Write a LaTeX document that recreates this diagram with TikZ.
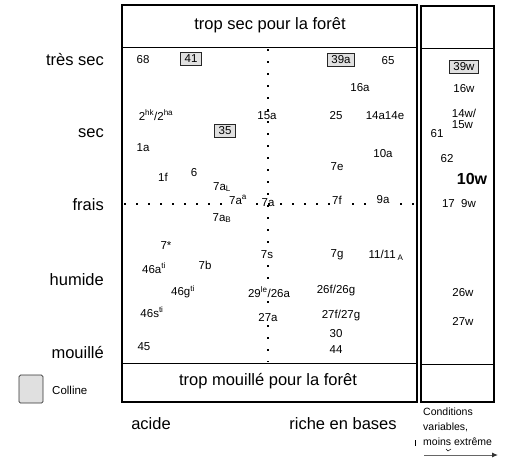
\documentclass[tikz,border=0pt]{standalone}
\usepackage{fontspec}
\setmainfont{Liberation Sans}
\usetikzlibrary{arrows.meta}
\begin{document}
\begin{tikzpicture}[x=1pt,y=-1pt,
  bare/.style={inner sep=0pt, font=\fontsize{11.5}{13}\selectfont},
  lbl/.style={bare, fill=white, inner sep=0.8pt},
  big/.style={inner sep=0pt, font=\fontsize{16.5}{19}\selectfont},
  hill/.style={bare, draw=black!85, fill=black!12, line width=0.8pt, inner xsep=4pt, inner ysep=2.5pt},
  frame/.style={draw, line width=2.2pt},
  sep/.style={draw, line width=0.8pt},
  dotline/.style={line width=2.2pt, dash pattern=on 2.2pt off 9.8pt},
  small/.style={inner sep=0pt, font=\fontsize{10.5}{15}\selectfont, align=left}
]
\useasboundingbox (0,0) rectangle (506,459);
% frames
\draw[frame] (122,5) rectangle (417,402);
\draw[sep] (122,47) -- (417,47);
\draw[sep] (122,363) -- (417,363);
\draw[frame] (421,6) rectangle (494,402);
\draw[sep] (421,48) -- (494,48);
\draw[sep] (421,364) -- (494,364);
% dotted axes
\draw[dotline] (268,49) -- (268,362);
\draw[dotline] (124,204) -- (416,204);
% headers
\node[big] (hdrtop) at (270,25) {trop sec pour la forêt};
\node[big] (hdrbot) at (268,381) {trop mouillé pour la forêt};
% moisture labels
\node[big, anchor=east] (tressec) at (104,60) {très sec};
\node[big, anchor=east] (sec) at (104,133) {sec};
\node[big, anchor=east] (frais) at (104,205) {frais};
\node[big, anchor=east] (humide) at (104,280) {humide};
\node[big, anchor=east] (mouille) at (104,352) {mouillé};
% bottom labels
\node[big] (acide) at (151,424) {acide};
\node[big] (riche) at (343,424) {riche en bases};
% main labels
\node[lbl] (n68) at (143,60) {68};
\node[hill] (n41) at (191,59) {41};
\node[hill] (n39a) at (341,60) {39a};
\node[lbl] (n65) at (388,61) {65};
\node[lbl] (n16a) at (360,88) {16a};
\node[lbl] (n2) at (156,115) {2\textsuperscript{hk}/2\textsuperscript{ha}};
\node[lbl] (n15a) at (267,116) {15a};
\node[lbl] (n25) at (336,116) {25};
\node[lbl] (n14a) at (385,116) {14a14e};
\node[hill] (n35) at (225,131) {35};
\node[lbl] (n1a) at (143,148) {1a};
\node[lbl] (n10a) at (383,154) {10a};
\node[lbl] (n7e) at (337,167) {7e};
\node[lbl] (n1f) at (163,177) {1f};
\node[lbl] (n6) at (194,173) {6};
\node[lbl] (n7aL) at (222,187) {7a\textsubscript{L}};
\node[lbl] (n7aa) at (238,200) {7a\textsuperscript{a}};
\node[bare] (n7a) at (268,203) {7a};
\node[lbl] (n7f) at (337,200) {7f};
\node[lbl] (n9a) at (383,200) {9a};
\node[lbl] (n7aB) at (222,218) {7a\textsubscript{B}};
\node[lbl] (n7star) at (166,246) {7*};
\node[lbl] (n7s) at (267,255) {7s};
\node[lbl] (n7g) at (337,255) {7g};
\node[lbl] (n11) at (386,255) {11/11\,\textsubscript{A}};
\node[lbl] (n46a) at (154,268) {46a\textsuperscript{ti}};
\node[lbl] (n7b) at (205,265) {7b};
\node[lbl] (n46g) at (183,292) {46g\textsuperscript{ti}};
\node[lbl] (n29) at (269,292) {29\textsuperscript{le}/26a};
\node[lbl] (n26f) at (336,291) {26f/26g};
\node[lbl] (n46s) at (152,312) {46s\textsuperscript{ti}};
\node[lbl] (n27a) at (268,318) {27a};
\node[lbl] (n27f) at (341,316) {27f/27g};
\node[lbl] (n30) at (336,334) {30};
\node[lbl] (n44) at (336,350) {44};
\node[lbl] (n45) at (144,347) {45};
% right column
\node[hill] (n39w) at (464,67) {39w};
\node[lbl] (n16w) at (464,89) {16w};
\node[lbl, align=left] (n14w) at (464,119) {14w/\\[-1.5pt]15w};
\node[lbl] (n61) at (437,134) {61};
\node[lbl] (n62) at (447,159) {62};
\node[inner sep=0pt, font=\fontsize{16}{19}\selectfont\bfseries] (n10w) at (472,179) {10w};
\node[lbl] (n17) at (459,204) {17\ \ 9w};
\node[lbl] (n26w) at (463,293) {26w};
\node[lbl] (n27w) at (463,321) {27w};
% legend
\draw[draw=black!80, fill=black!12, line width=0.7pt, rounded corners=1.5pt] (19,375) rectangle (43,403);
\node[bare, anchor=west] (colline) at (52,390) {Colline};
% conditions
\node[small, anchor=north west] (cond) at (423,408) {Conditions\\variables,\\moins extrême};
\draw[line width=0.6pt] (415,440) -- (415,446);
\draw[line width=0.5pt] (446,449) -- (448,451) -- (451,449);
\coordinate (arrS) at (424,455);
\coordinate (arrE) at (498,455);
\draw[black!60, line width=1pt, -{Latex[length=6pt,width=5pt,black!80]}] (arrS) -- (arrE);
\end{tikzpicture}
\end{document}
